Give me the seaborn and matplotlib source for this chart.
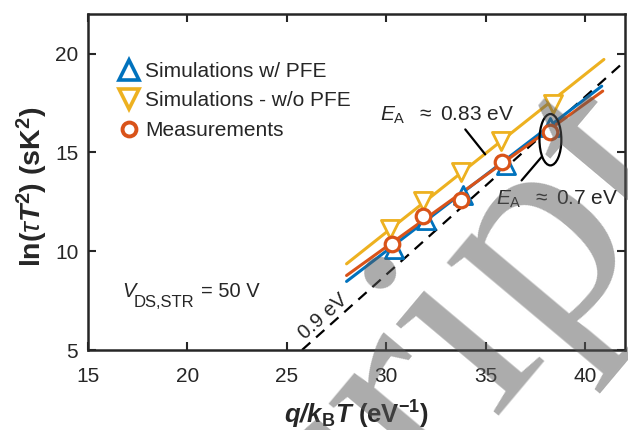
import numpy as np
import pandas as pd
import matplotlib
matplotlib.use("Agg")
import matplotlib.pyplot as plt
from matplotlib.lines import Line2D
from matplotlib.patches import Ellipse
import seaborn as sns

# ---------------- data ----------------
meas_x = [30.28, 31.82, 33.75, 35.83, 38.24]
meas_y = [10.34, 11.80, 12.61, 14.53, 16.04]

pfe_x = [30.40, 32.00, 33.85, 36.00, 38.25]
pfe_y = [10.10, 11.56, 12.85, 14.36, 16.27]

nopfe_x = [30.20, 31.86, 33.74, 35.76, 38.39]
nopfe_y = [11.13, 12.56, 13.99, 15.56, 17.44]

# fitted lines (end points)
fit_meas_x = [28.0, 40.88]
fit_meas_y = [8.77, 18.10]
fit_pfe_x = [28.0, 40.83]
fit_pfe_y = [8.47, 18.35]
fit_nopfe_x = [28.0, 40.94]
fit_nopfe_y = [9.36, 19.70]

# 0.9 eV reference line
ref_x = [25.76, 42.5]
ref_y = [5.0, 20.07]

xticks = [15, 20, 25, 30, 35, 40]
yticks = [5, 10, 15, 20]

BLUE = "#0072BD"
ORANGE = "#D95319"
YELLOW = "#EDB120"
DARK = "#262626"

sns.set_theme(style="ticks")
plt.rcParams["font.family"] = ["Liberation Sans", "DejaVu Sans"]
plt.rcParams["mathtext.fontset"] = "custom"
plt.rcParams["mathtext.rm"] = "Liberation Sans"
plt.rcParams["mathtext.it"] = "Liberation Sans:italic"
plt.rcParams["mathtext.bf"] = "Liberation Sans:bold"
plt.rcParams["mathtext.bfit"] = "Liberation Sans:bold:italic"

fig = plt.figure(figsize=(6.28, 4.30), dpi=100)
ax = fig.add_axes([88 / 628, 80 / 430, 537 / 628, 336 / 430])

# lines
lw = 2.2
sns.lineplot(x=ref_x, y=ref_y, ax=ax, color="black", lw=1.6,
             linestyle=(0, (5, 3.5)), zorder=2)
sns.lineplot(x=fit_nopfe_x, y=fit_nopfe_y, ax=ax, color=YELLOW, lw=lw, zorder=3)
sns.lineplot(x=fit_pfe_x, y=fit_pfe_y, ax=ax, color=BLUE, lw=lw, zorder=3)
sns.lineplot(x=fit_meas_x, y=fit_meas_y, ax=ax, color=ORANGE, lw=lw, zorder=3)

# markers
sns.scatterplot(x=nopfe_x, y=nopfe_y, ax=ax, marker="v", s=170, facecolor="white",
                edgecolor=YELLOW, linewidth=2.0, zorder=4)
sns.scatterplot(x=pfe_x, y=pfe_y, ax=ax, marker="^", s=170, facecolor="white",
                edgecolor=BLUE, linewidth=2.0, zorder=5)
sns.scatterplot(x=meas_x, y=meas_y, ax=ax, marker="o", s=110, facecolor="white",
                edgecolor=ORANGE, linewidth=2.3, zorder=6)

# ellipse and leaders
ax.add_patch(Ellipse((38.25, 15.64), 1.1, 2.6, fill=False, edgecolor="black",
                     lw=1.6, zorder=7))
ax.plot([33.97, 34.97], [16.16, 14.90], color="black", lw=1.6, zorder=7)
ax.plot([36.80, 37.80], [13.58, 14.76], color="black", lw=1.6, zorder=7)

ax.text(29.67, 16.6, r"$\mathit{E}_{\mathrm{A}}$  $\approx$ 0.83 eV", fontsize=15,
        ha="left", va="baseline", zorder=8)
ax.text(35.5, 12.36, r"$\mathit{E}_{\mathrm{A}}$  $\approx$ 0.7 eV", fontsize=15,
        ha="left", va="baseline", zorder=8)
ax.text(26.8, 6.68, "0.9 eV", fontsize=14.5, rotation=41.6, rotation_mode="anchor",
        ha="center", va="center", zorder=8)

# V_DS,STR = 50 V  (pixel -> data)
def px2x(px):
    return 30 + (px - 386.7) / 20.07

def py2y(py):
    return 15 - (py - 151.7) / 19.8

ax.text(px2x(120), py2y(297), "V", fontsize=14.5, style="italic", ha="left", va="baseline")
ax.text(px2x(131.5), py2y(306.7), "DS,STR", fontsize=12, ha="left", va="baseline")
ax.text(px2x(200), py2y(297), "= 50 V", fontsize=14.5, ha="left", va="baseline")

# legend
handles = [
    Line2D([], [], linestyle="none", marker="^", markersize=15, markerfacecolor="white",
           markeredgecolor=BLUE, markeredgewidth=2.6),
    Line2D([], [], linestyle="none", marker="v", markersize=15, markerfacecolor="white",
           markeredgecolor=YELLOW, markeredgewidth=2.6),
    Line2D([], [], linestyle="none", marker="o", markersize=10, markerfacecolor="white",
           markeredgecolor=ORANGE, markeredgewidth=2.8),
]
labels = ["Simulations w/ PFE", "Simulations - w/o PFE", "Measurements"]
ax.legend(handles, labels, loc="upper left", bbox_to_anchor=(0.0588, 0.857),
          frameon=False, fontsize=15, handlelength=0.9, handletextpad=0.32,
          labelspacing=0.5, borderpad=0, borderaxespad=0)

# axes
ax.set_xlim(15, 42)
ax.set_ylim(5, 22)
ax.set_xticks(xticks)
ax.set_yticks(yticks)
ax.tick_params(direction="in", length=6, width=1.5, top=True, right=True,
               labelsize=15, colors=DARK)
ax.tick_params(axis="x", pad=12)
ax.tick_params(axis="y", pad=7)
for sp in ax.spines.values():
    sp.set_visible(True)
    sp.set_linewidth(1.8)
    sp.set_color(DARK)

ax.set_xlabel(r"$\mathbfit{q/k}_{\mathbf{B}}\mathbfit{T}$ $\mathbf{(eV^{-1})}$",
              fontsize=18.5)
ax.xaxis.label.set_va("baseline")
ax.xaxis.set_label_coords(0.5, -(423 - 349) / 336)
ax.set_ylabel(r"$\mathbf{ln(}\tau\mathbfit{T}^{\mathbf{2}}\mathbf{)\ (sK^{2})}$",
              fontsize=20.5)
ax.yaxis.label.set_va("center")
ax.yaxis.set_label_coords(-0.104, 0.485)

# watermark
fig.text(696 / 628, (430 - 170) / 430, "Manuscript", fontsize=216,
         family="Liberation Serif", color="0.35", alpha=0.5, rotation=50,
         rotation_mode="anchor", ha="right", va="baseline", zorder=20)

fig.savefig("out.png", dpi=100)
